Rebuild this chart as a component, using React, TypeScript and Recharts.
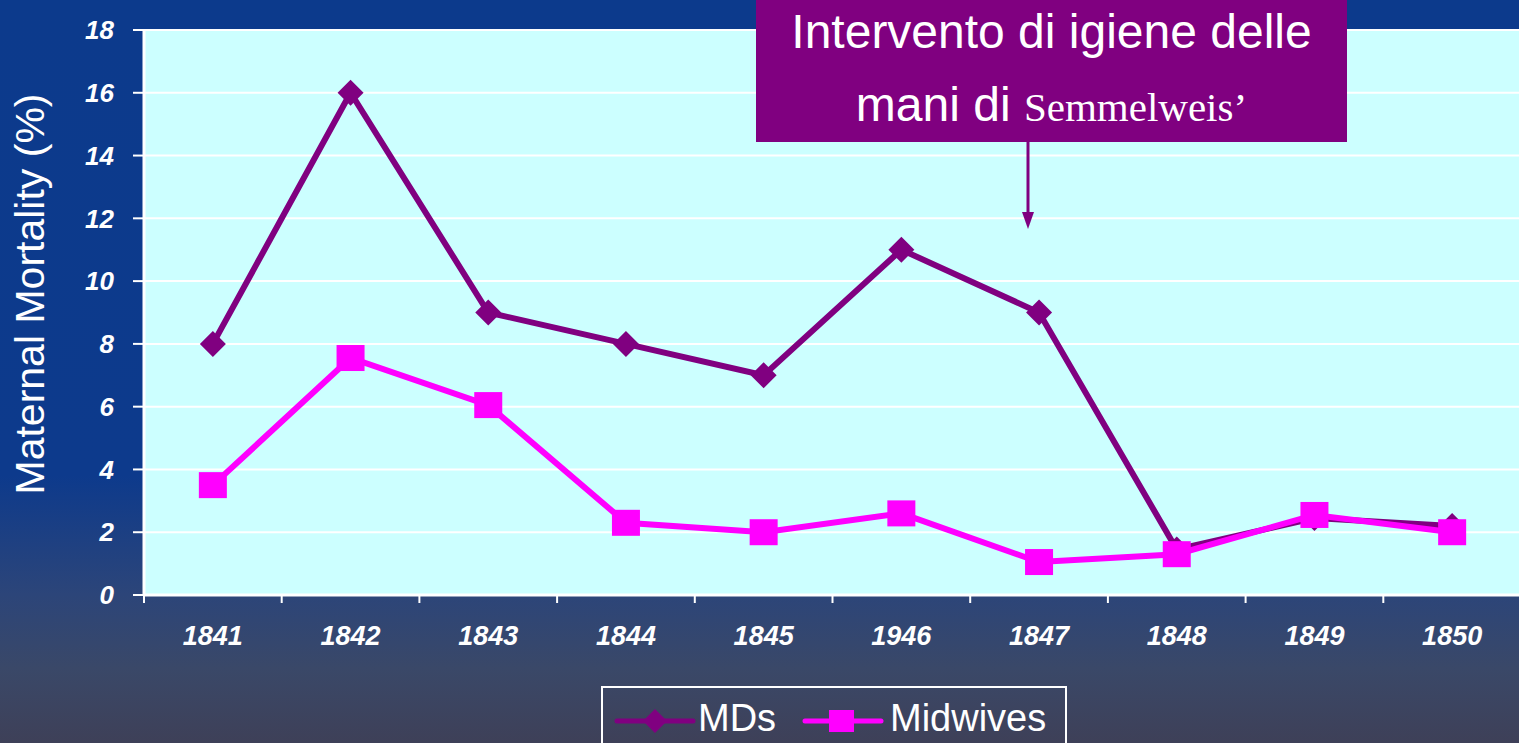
import React from "react";
import {
  LineChart,
  Line,
  XAxis,
  YAxis,
  CartesianGrid,
} from "recharts";

const YEARS = ["1841", "1842", "1843", "1844", "1845", "1946", "1847", "1848", "1849", "1850"];
const MDS = [8, 16, 9, 8, 7, 11, 9, 1.45, 2.45, 2.2];
const MIDWIVES = [3.5, 7.55, 6.05, 2.3, 2.0, 2.6, 1.05, 1.3, 2.55, 2.0];
const Y_TICKS = [0, 2, 4, 6, 8, 10, 12, 14, 16, 18];
const X_BOUNDS = [0, 1, 2, 3, 4, 5, 6, 7, 8, 9, 10];

const data = YEARS.map((year, i) => ({
  x: i + 0.5,
  year,
  mds: MDS[i],
  midwives: MIDWIVES[i],
}));

const FONT = '"Liberation Sans", Arial, sans-serif';
const SERIF = '"Liberation Serif", "Times New Roman", serif';
const PURPLE = "#800080";
const MAGENTA = "#ff00ff";

const CHART_W = 1521;
const CHART_H = 743;
const Y_AXIS_W = 144;
const HALF_STEP = (CHART_W - Y_AXIS_W) / YEARS.length / 2;

const Diamond = (props: any) => {
  const { cx, cy, index } = props;
  if (cx == null || cy == null) return <g key={index} />;
  const r = 13;
  return (
    <path
      key={index}
      d={`M${cx},${cy - r}L${cx + r},${cy}L${cx},${cy + r}L${cx - r},${cy}Z`}
      fill={PURPLE}
    />
  );
};

const Square = (props: any) => {
  const { cx, cy, index } = props;
  if (cx == null || cy == null) return <g key={index} />;
  return <rect key={index} x={cx - 14} y={cy - 13} width={28} height={26} fill={MAGENTA} />;
};

const YearTick = (props: any) => {
  const { x, y, payload } = props;
  const label = YEARS[payload.value];
  if (!label) return <g />;
  return (
    <text
      x={x + HALF_STEP}
      y={y + 42}
      textAnchor="middle"
      fill="#fff"
      fontSize={27}
      fontWeight="bold"
      fontStyle="italic"
      fontFamily={FONT}
    >
      {label}
    </text>
  );
};

const YLabel = () => (
  <text
    x={30}
    y={294}
    transform="rotate(-90, 30, 294)"
    textAnchor="middle"
    dominantBaseline="central"
    fill="#fff"
    fontSize={41}
    fontFamily={FONT}
  >
    Maternal Mortality (%)
  </text>
);

export default function App() {
  return (
    <div
      style={{
        position: "absolute",
        left: 0,
        top: 0,
        width: 1519,
        height: 743,
        overflow: "hidden",
        fontFamily: FONT,
        background:
          "linear-gradient(to bottom, #0c3a8c 0%, #0d3a8c 64%, #2c4579 80%, #3a4868 90%, #3e4058 100%)",
      }}
    >
      <LineChart
        width={CHART_W}
        height={CHART_H}
        data={data}
        margin={{ top: 30, right: 0, bottom: 0, left: 0 }}
      >
        <CartesianGrid
          vertical={false}
          fill="#ccffff"
          fillOpacity={1}
          stroke="#fff"
          strokeWidth={2}
        />
        <XAxis
          type="number"
          dataKey="x"
          domain={[0, 10]}
          ticks={X_BOUNDS}
          interval={0}
          height={148}
          tickSize={8}
          tickMargin={0}
          axisLine={{ stroke: "#fff", strokeWidth: 3 }}
          tickLine={{ stroke: "#fff", strokeWidth: 2 }}
          tick={<YearTick />}
        />
        <YAxis
          type="number"
          domain={[0, 18]}
          ticks={Y_TICKS}
          interval={0}
          width={Y_AXIS_W}
          tickSize={11}
          tickMargin={19}
          axisLine={{ stroke: "#fff", strokeWidth: 3 }}
          tickLine={{ stroke: "#fff", strokeWidth: 2 }}
          tick={{
            fill: "#fff",
            fontSize: 26,
            fontWeight: "bold",
            fontStyle: "italic",
            fontFamily: FONT,
          }}
          label={<YLabel />}
        />
        <Line
          dataKey="mds"
          name="MDs"
          stroke={PURPLE}
          strokeWidth={6}
          dot={<Diamond />}
          isAnimationActive={false}
        />
        <Line
          dataKey="midwives"
          name="Midwives"
          stroke={MAGENTA}
          strokeWidth={6}
          dot={<Square />}
          isAnimationActive={false}
        />
      </LineChart>

      {/* annotation */}
      <div
        style={{
          position: "absolute",
          left: 756,
          top: -5,
          width: 591,
          height: 147,
          background: PURPLE,
          color: "#fff",
          textAlign: "center",
          fontSize: 48,
          lineHeight: "73px",
          whiteSpace: "nowrap",
        }}
      >
        <div>Intervento di igiene delle</div>
        <div>
          mani di <span style={{ fontFamily: SERIF, fontSize: 41 }}>Semmelweis’</span>
        </div>
      </div>
      <svg
        style={{ position: "absolute", left: 1018, top: 140, overflow: "visible" }}
        width={20}
        height={95}
      >
        <line x1={10} y1={2} x2={10} y2={76} stroke={PURPLE} strokeWidth={3} />
        <path d="M4,72L16,72L10,89Z" fill={PURPLE} />
      </svg>

      {/* legend */}
      <div
        style={{
          position: "absolute",
          left: 601,
          top: 686,
          width: 462,
          height: 70,
          border: "2px solid #fff",
          color: "#fff",
          fontSize: 38,
        }}
      >
        <svg style={{ position: "absolute", left: 11, top: 18 }} width={82} height={30}>
          <line x1={3} y1={15} x2={79} y2={15} stroke={PURPLE} strokeWidth={5} strokeLinecap="round" />
          <path d="M41,3L53,15L41,27L29,15Z" fill={PURPLE} />
        </svg>
        <span style={{ position: "absolute", left: 95, top: 8, lineHeight: "44px" }}>MDs</span>
        <svg style={{ position: "absolute", left: 199, top: 18 }} width={82} height={30}>
          <line x1={3} y1={15} x2={79} y2={15} stroke={MAGENTA} strokeWidth={5} strokeLinecap="round" />
          <rect x={27} y={4} width={25} height={22} fill={MAGENTA} />
        </svg>
        <span style={{ position: "absolute", left: 287, top: 8, lineHeight: "44px" }}>Midwives</span>
      </div>
    </div>
  );
}
